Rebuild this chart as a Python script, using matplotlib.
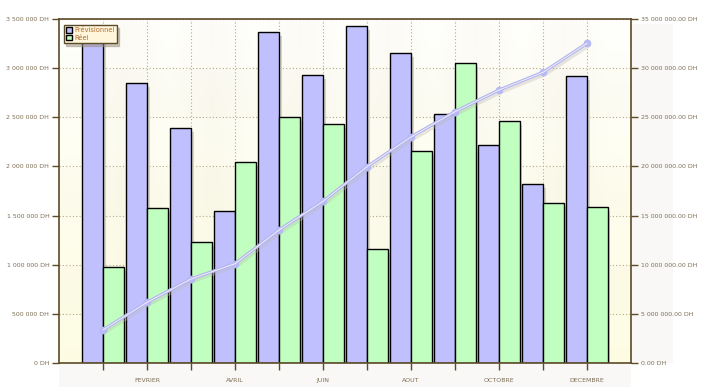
import numpy as np
import matplotlib
matplotlib.use("Agg")
import matplotlib.pyplot as plt
from matplotlib.patches import Patch, Rectangle

months = ["JANVIER", "FEVRIER", "MARS", "AVRIL", "MAI", "JUIN",
          "JUILLET", "AOUT", "SEPTEMBRE", "OCTOBRE", "NOVEMBRE", "DECEMBRE"]
previsionnel = [3360000, 2845000, 2388000, 1546000, 3364000, 2927000,
                3425000, 3150000, 2533000, 2214000, 1818000, 2916000]
reel = [973000, 1574000, 1228000, 2042000, 2499000, 2428000,
        1160000, 2153000, 3049000, 2459000, 1624000, 1590000]
cumul = [3360000, 6170000, 8550000, 10100000, 13530000, 16450000,
         19970000, 23000000, 25570000, 27770000, 29570000, 32520000]

left_ticks = [0, 500000, 1000000, 1500000, 2000000, 2500000, 3000000, 3500000]
left_labels = ["0 DH", "500 000 DH", "1 000 000 DH", "1 500 000 DH",
               "2 000 000 DH", "2 500 000 DH", "3 000 000 DH", "3 500 000 DH"]
right_ticks = [0, 5e6, 10e6, 15e6, 20e6, 25e6, 30e6, 35e6]
right_labels = ["0.00 DH", "5 000 000.00 DH", "10 000 000.00 DH", "15 000 000.00 DH",
                "20 000 000.00 DH", "25 000 000.00 DH", "30 000 000.00 DH",
                "35 000 000.00 DH"]

W, H = 709, 387
fig = plt.figure(figsize=(W / 100, H / 100), dpi=100)
fig.patch.set_facecolor("white")

# light gray label strips
fig.add_artist(Rectangle((59 / W, 0), (631 - 59) / W, 24 / H, transform=fig.transFigure,
                         facecolor="#f9f8f6", edgecolor="none", zorder=0))
fig.add_artist(Rectangle((631 / W, 24 / H), (673 - 631) / W, (363 - 24) / H,
                         transform=fig.transFigure, facecolor="#f9f8f6",
                         edgecolor="none", zorder=0))

ax = fig.add_axes([59 / W, 1 - 363 / H, (631 - 59) / W, (363 - 19) / H])
ax.set_xlim(-1, 12)
ax.set_ylim(0, 3500000)
ax.set_facecolor("none")

# background gradient with subtle bands
ny, nx = 350, 13
yy = np.linspace(1, 0, ny)[:, None]  # top -> bottom
top = np.array([1.0, 1.0, 0.99])
bot = np.array([0.995, 0.99, 0.89])
img = top[None, None, :] * yy[..., None] + bot[None, None, :] * (1 - yy[..., None])
img = np.repeat(img, nx, axis=1)
for j in range(nx):
    if j % 2 == 1:
        img[:, j, :] *= np.array([0.988, 0.984, 0.978])
for i in range(ny):
    band = int((1 - i / ny) * 7)
    if band % 2 == 1:
        img[i, :, :] *= np.array([0.992, 0.99, 0.985])
img = np.clip(img, 0, 1)
ax.imshow(img, extent=[-1, 12, 0, 3500000], aspect="auto", zorder=0,
          interpolation="bilinear")

x = np.arange(len(months))
bw = 0.47
# shadows
sh_dx = 0.06
sh_dy = 40000
ax.bar(x - bw / 2 + sh_dx, np.array(previsionnel) - sh_dy, width=bw,
       color="#d8d4c4", edgecolor="none", zorder=2)
ax.bar(x + bw / 2 + sh_dx, np.array(reel) - sh_dy, width=bw,
       color="#d8d4c4", edgecolor="none", zorder=2)
ax.bar(x - bw / 2, previsionnel, width=bw, color="#c0c0ff", edgecolor="black",
       linewidth=1.0, zorder=3)
ax.bar(x + bw / 2, reel, width=bw, color="#c0ffc0", edgecolor="black",
       linewidth=1.0, zorder=3)

ax.set_yticks(left_ticks)
ax.set_yticklabels(left_labels)
ax.set_xticks(x)
ax.set_xticklabels([m if i % 2 == 1 else "" for i, m in enumerate(months)])
ax.grid(True, color="#b8a888", linestyle=(0, (1, 2)), linewidth=0.8, zorder=1)
ax.set_axisbelow(True)

spine_c = "#5c4a28"
for s in ax.spines.values():
    s.set_color(spine_c)
    s.set_linewidth(1.2)
    s.set_zorder(6)
ax.tick_params(axis="both", colors=spine_c, labelcolor="#7d6e55", labelsize=4.5,
               length=5, width=1, direction="out", pad=2)
ax.tick_params(axis="x", pad=6)

ax2 = ax.twinx()
ax2.set_ylim(0, 35000000)
ax2.set_yticks(right_ticks)
ax2.set_yticklabels(right_labels)
for s in ax2.spines.values():
    s.set_visible(False)
ax2.tick_params(axis="y", colors=spine_c, labelcolor="#7d6e55", labelsize=4.5,
                length=5, width=1, direction="out", pad=2)
ax2.set_zorder(ax.get_zorder() + 1)
ax2.patch.set_visible(False)

# cumulative line with shadow and highlight
ax2.plot(x + 0.05, np.array(cumul) - 250000, color="#bdbab0", linewidth=2.0,
         alpha=0.35, zorder=3)
ax2.plot(x, cumul, color="#b4b4ee", linewidth=2.4, zorder=4,
         marker="o", markersize=4.5, markerfacecolor="#b8b8f4",
         markeredgecolor="#b8b8f4")
ax2.plot(x, cumul, color="white", linewidth=0.7, alpha=0.8, zorder=5)

handles = [Patch(facecolor="#c0c0ff", edgecolor="black", linewidth=1),
           Patch(facecolor="#c0ffc0", edgecolor="black", linewidth=1)]
leg = ax2.legend(handles, ["Prévisionnel", "Réel"], loc="upper left",
                 bbox_to_anchor=(0.008, 0.983), fontsize=4.8, frameon=True,
                 fancybox=False, shadow={"color": "#999080", "alpha": 0.5},
                 handlelength=0.9, handleheight=0.9, handletextpad=0.3,
                 borderpad=0.35, labelspacing=0.25, borderaxespad=0)
leg.get_frame().set_facecolor("#fff6dc")
leg.get_frame().set_edgecolor(spine_c)
leg.get_frame().set_linewidth(1)
for t in leg.get_texts():
    t.set_color("#b06a30")
leg.set_zorder(10)

fig.savefig("out.png", dpi=100)
